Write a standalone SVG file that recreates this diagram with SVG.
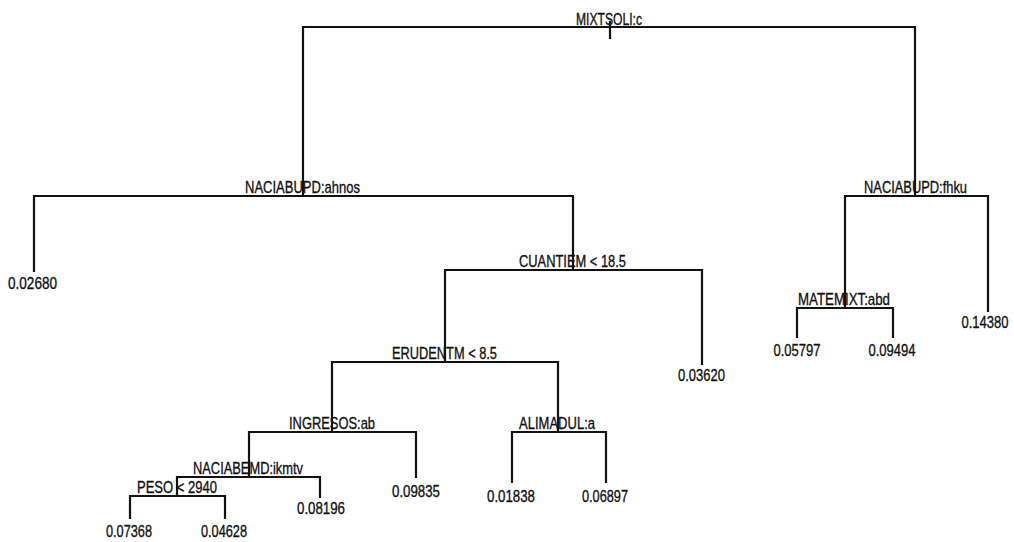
<svg xmlns="http://www.w3.org/2000/svg" width="1014" height="542" viewBox="0 0 1014 542">
  <style>
    .edge { fill: none; stroke: #111; stroke-width: 2.2; stroke-linecap: square; }
    .lbl { font-family: "Liberation Sans", Arial, sans-serif; font-size: 17px; fill: #111; stroke: #111; stroke-width: 0.35; text-anchor: middle; }
  </style>
  <rect width="1014" height="542" fill="#fff"/>

  <!-- tree branches -->
  <g id="connectors">
    <path class="edge" d="M610,22 V38"/>
    <path class="edge" d="M303,196 V27 H915 V196"/>
    <path class="edge" d="M34,271 V196 H573 V270"/>
    <path class="edge" d="M445,362 V270 H702 V364"/>
    <path class="edge" d="M332,432 V362 H558 V432"/>
    <path class="edge" d="M249,477 V432 H416 V477"/>
    <path class="edge" d="M177,496 V477 H320 V497"/>
    <path class="edge" d="M130,518 V496 H225 V518"/>
    <path class="edge" d="M512,482 V432 H606 V482"/>
    <path class="edge" d="M845,308 V196 H988 V311"/>
    <path class="edge" d="M797,337 V308 H893 V337"/>
  </g>

  <!-- split nodes -->
  <g id="n-mixtsoli"><text class="lbl" x="609" y="25" textLength="66" lengthAdjust="spacingAndGlyphs">MIXTSOLI:c</text></g>
  <g id="n-naciabupd-ahnos"><text class="lbl" x="302.5" y="193" textLength="115" lengthAdjust="spacingAndGlyphs">NACIABUPD:ahnos</text></g>
  <g id="n-naciabupd-fhku"><text class="lbl" x="915.5" y="193" textLength="103" lengthAdjust="spacingAndGlyphs">NACIABUPD:fhku</text></g>
  <g id="n-cuantiem"><text class="lbl" x="572.5" y="267" textLength="107" lengthAdjust="spacingAndGlyphs">CUANTIEM &lt; 18.5</text></g>
  <g id="n-erudentm"><text class="lbl" x="444.5" y="359" textLength="105" lengthAdjust="spacingAndGlyphs">ERUDENTM &lt; 8.5</text></g>
  <g id="n-ingresos"><text class="lbl" x="332" y="429" textLength="86" lengthAdjust="spacingAndGlyphs">INGRESOS:ab</text></g>
  <g id="n-alimadul"><text class="lbl" x="557" y="429" textLength="76" lengthAdjust="spacingAndGlyphs">ALIMADUL:a</text></g>
  <g id="n-naciabemd"><text class="lbl" x="248" y="474" textLength="110" lengthAdjust="spacingAndGlyphs">NACIABEMD:ikmtv</text></g>
  <g id="n-peso"><text class="lbl" x="177" y="493" textLength="80" lengthAdjust="spacingAndGlyphs">PESO &lt; 2940</text></g>
  <g id="n-matemixt"><text class="lbl" x="844" y="305" textLength="92" lengthAdjust="spacingAndGlyphs">MATEMIXT:abd</text></g>

  <!-- leaves -->
  <g id="leaf-02680"><text class="lbl" x="32.5" y="289" textLength="49" lengthAdjust="spacingAndGlyphs">0.02680</text></g>
  <g id="leaf-03620"><text class="lbl" x="701.5" y="381" textLength="47" lengthAdjust="spacingAndGlyphs">0.03620</text></g>
  <g id="leaf-09835"><text class="lbl" x="416" y="497" textLength="48" lengthAdjust="spacingAndGlyphs">0.09835</text></g>
  <g id="leaf-08196"><text class="lbl" x="321" y="514" textLength="48" lengthAdjust="spacingAndGlyphs">0.08196</text></g>
  <g id="leaf-07368"><text class="lbl" x="129" y="537" textLength="46" lengthAdjust="spacingAndGlyphs">0.07368</text></g>
  <g id="leaf-04628"><text class="lbl" x="224" y="537" textLength="46" lengthAdjust="spacingAndGlyphs">0.04628</text></g>
  <g id="leaf-01838"><text class="lbl" x="511" y="502" textLength="48" lengthAdjust="spacingAndGlyphs">0.01838</text></g>
  <g id="leaf-06897"><text class="lbl" x="605" y="502" textLength="46" lengthAdjust="spacingAndGlyphs">0.06897</text></g>
  <g id="leaf-14380"><text class="lbl" x="985" y="328" textLength="47" lengthAdjust="spacingAndGlyphs">0.14380</text></g>
  <g id="leaf-05797"><text class="lbl" x="797" y="356" textLength="47" lengthAdjust="spacingAndGlyphs">0.05797</text></g>
  <g id="leaf-09494"><text class="lbl" x="892" y="356" textLength="47" lengthAdjust="spacingAndGlyphs">0.09494</text></g>
</svg>
